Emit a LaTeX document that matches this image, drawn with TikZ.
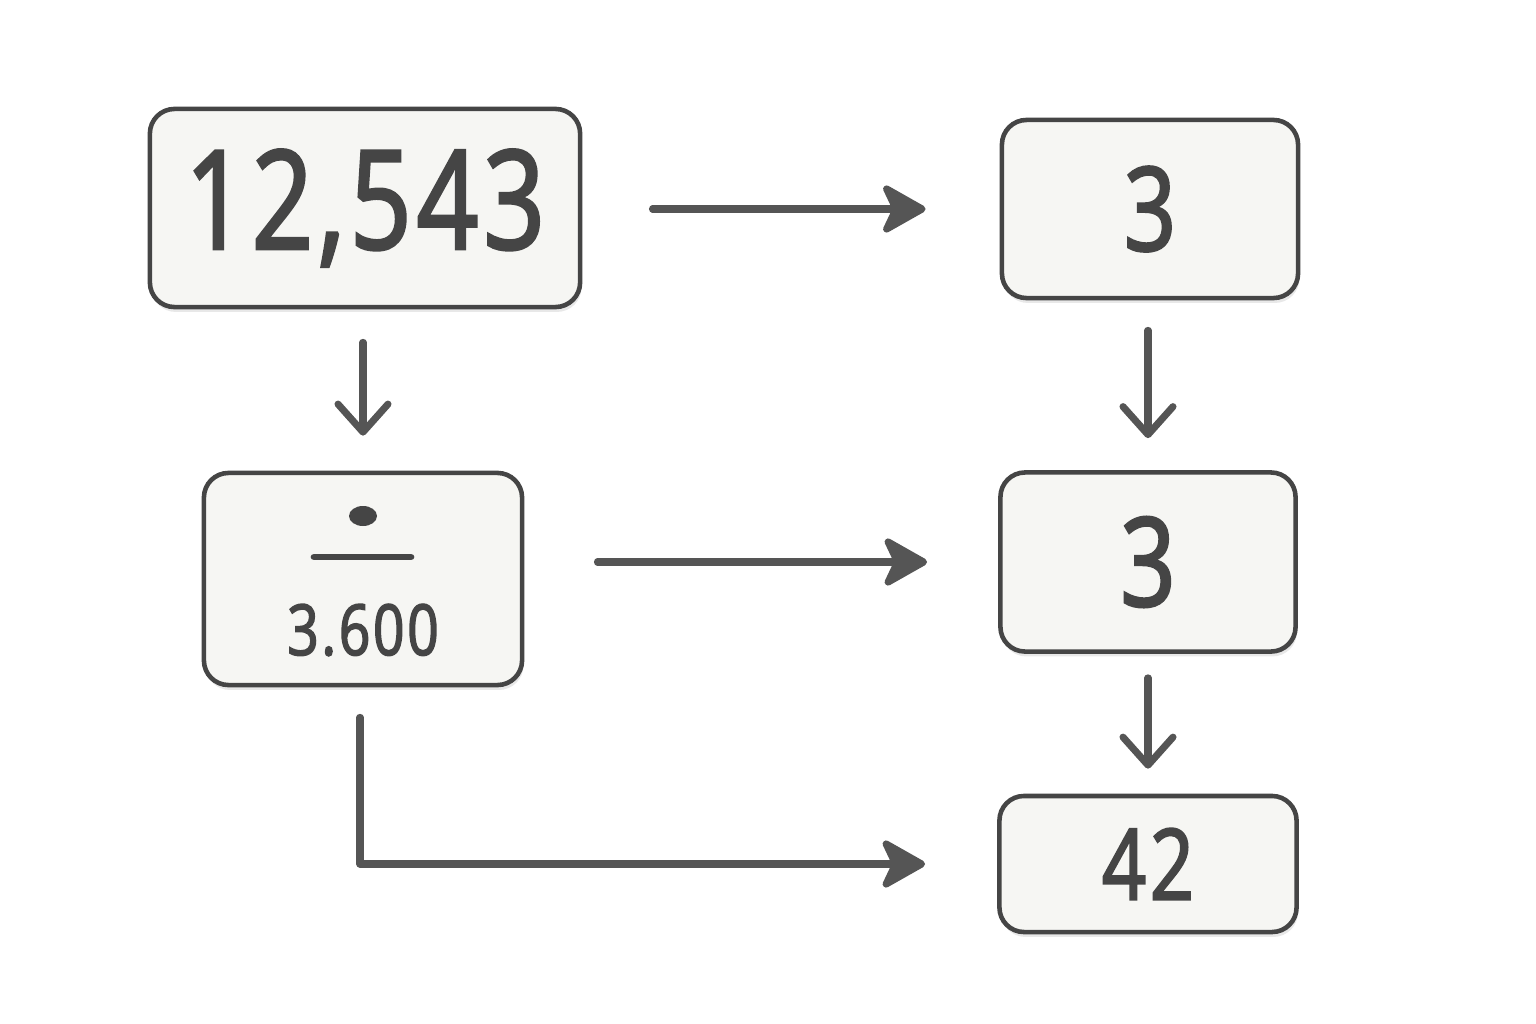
\documentclass[tikz,border=0pt]{standalone}
\usepackage{fontspec}
\setmainfont{Open Sans}
\newfontfamily\numfont[FakeStretch=0.78, FakeBold=2.2, LetterSpace=4]{Open Sans}
\usepackage{tikz}
\usetikzlibrary{arrows.meta,positioning,shadows}

\definecolor{inkgray}{HTML}{454545}
\definecolor{boxfill}{HTML}{F6F6F3}
\definecolor{arrowgray}{HTML}{555555}

\tikzset{
  numbox/.style={draw=inkgray, line width=1.3pt, fill=boxfill, rounded corners=7pt,
    inner sep=0pt, text=inkgray, font=\numfont,
    drop shadow={shadow xshift=0.4pt, shadow yshift=-1.4pt, opacity=0.18}},
  flow/.style={arrowgray, line width=2pt, line cap=round,
    -{Stealth[length=5mm, width=5.6mm, inset=1.3mm, round]}},
  down/.style={arrowgray, line width=2pt, line cap=round, line join=round,
    -{Straight Barb[length=2.8mm, width=5mm, round]}}
}

\begin{document}
\begin{tikzpicture}[x=0.01cm, y=-0.01cm]
\useasboundingbox (0,0) rectangle (1536,1024);

% boxes
\node[numbox, minimum width=4.3cm, minimum height=1.98cm, font=\numfont\fontsize{39}{39}\selectfont]
  (total) at (365,208) {12,543};
\node[numbox, minimum width=2.96cm, minimum height=1.78cm, font=\numfont\fontsize{33}{33}\selectfont]
  (first) at (1150,209) {\raisebox{-0.08cm}{3}};
\node[numbox, minimum width=3.18cm, minimum height=2.12cm] (divide) at (363,579) {};
\node[numbox, minimum width=2.95cm, minimum height=1.79cm, font=\numfont\fontsize{35}{35}\selectfont]
  (second) at (1148,562) {\raisebox{-0.1cm}{3}};
\node[numbox, minimum width=2.97cm, minimum height=1.36cm, font=\numfont\fontsize{28}{28}\selectfont]
  (answer) at (1148,864) {42};

% division sign inside the box
\fill[inkgray] (363,516) ellipse (14 and 10);
\draw[inkgray, line width=1.9pt, line cap=round] (314,557) -- (411,557);
\node[text=inkgray, font=\numfont\fontsize{20}{20}\selectfont] (divisor) at (363,630) {3.600};

% arrows
\draw[flow, shorten <=0.70cm, shorten >=0.74cm] (total.east |- first) -- (first.west);
\draw[flow, shorten <=0.73cm, shorten >=0.71cm] (divide.east |- second) -- (second.west);
\draw[down, shorten <=0.33cm, shorten >=0.35cm] (total.south -| divide) -- (divide.north);
\draw[down, shorten <=0.30cm, shorten >=0.32cm] (first.south -| second) -- (second.north);
\draw[down, shorten <=0.24cm, shorten >=0.25cm] (second.south) -- (answer.north);
\draw[flow, line join=round, shorten <=0.30cm, shorten >=0.72cm] ([xshift=-0.03cm]divide.south) |- (answer.west);
\end{tikzpicture}
\end{document}
